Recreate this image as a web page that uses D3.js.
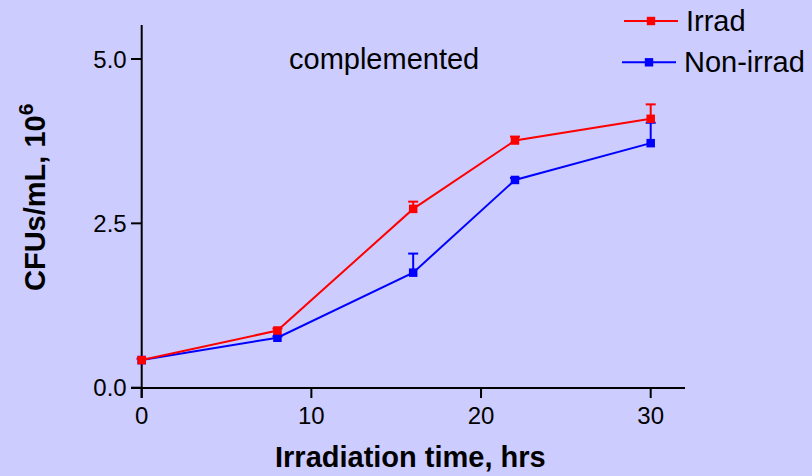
<!DOCTYPE html>
<html>
<head>
<meta charset="utf-8">
<script src="https://cdn.jsdelivr.net/npm/d3@7"></script>
<style>
  html, body { margin: 0; padding: 0; background: #ccccff; }
  svg { display: block; font-family: "Liberation Sans", Arial, sans-serif; }
</style>
</head>
<body>
<svg id="chart" width="812" height="476"></svg>
<script>
// Growth after irradiation, complemented strain
const hours = [0, 8, 16, 22, 30];
const irrad = [0.42, 0.87, 2.72, 3.76, 4.09];
const irradErr = [0.02, 0.03, 0.11, 0.06, 0.22];
const nonIrrad = [0.42, 0.76, 1.75, 3.16, 3.72];
const nonIrradErr = [0.02, 0.02, 0.29, 0.03, 0.31];
const xTicks = [0, 10, 20, 30];
const yTicks = [0.0, 2.5, 5.0];

const series = [
  { name: "Irrad", color: "#ff0000", values: irrad, err: irradErr },
  { name: "Non-irrad", color: "#0000ff", values: nonIrrad, err: nonIrradErr }
];

const svg = d3.select("#chart");
const x = d3.scaleLinear().domain([0, 30]).range([141.7, 650.7]);
const y = d3.scaleLinear().domain([0, 5]).range([387.7, 59]);

// axes
const xAxis = svg.append("g").attr("transform", "translate(0,388)");
xAxis.append("line").attr("x1", 131).attr("x2", 685).attr("stroke", "#000").attr("stroke-width", 2);
xAxis.selectAll(".xt").data(xTicks).enter().append("g").attr("class", "xt")
  .attr("transform", d => `translate(${x(d)},0)`)
  .each(function(d) {
    const t = d3.select(this);
    t.append("line").attr("y1", 0).attr("y2", 10).attr("stroke", "#000").attr("stroke-width", 2);
    t.append("text").attr("y", 36).attr("text-anchor", "middle").attr("font-size", 24).text(d);
  });

const yAxis = svg.append("g").attr("transform", "translate(141.7,0)");
yAxis.append("line").attr("y1", 25).attr("y2", 398).attr("stroke", "#000").attr("stroke-width", 2);
yAxis.selectAll(".yt").data(yTicks).enter().append("g").attr("class", "yt")
  .attr("transform", d => `translate(0,${y(d)})`)
  .each(function(d) {
    const t = d3.select(this);
    t.append("line").attr("x1", -10.7).attr("x2", 0).attr("stroke", "#000").attr("stroke-width", 2);
    t.append("text").attr("x", -15).attr("dy", "0.36em").attr("text-anchor", "end")
      .attr("font-size", 24).text(d3.format(".1f")(d));
  });

// axis titles
svg.append("text").attr("x", 275).attr("y", 467)
  .attr("font-size", 29).attr("font-weight", "bold").text("Irradiation time, hrs");

const yl = svg.append("text").attr("transform", "translate(44.5,291) rotate(-90)")
  .attr("font-size", 29).attr("font-weight", "bold");
yl.append("tspan").text("CFUs/mL, 10");
yl.append("tspan").attr("dy", -12).attr("font-size", 21).text("6");

svg.append("text").attr("x", 289).attr("y", 68.5).attr("font-size", 29).text("complemented");

// lines, error bars, markers
const line = d3.line().x((d, i) => x(hours[i])).y(d => y(d));
series.slice().reverse().forEach(s => {
  const g = svg.append("g");
  g.append("path").attr("d", line(s.values)).attr("fill", "none")
    .attr("stroke", s.color).attr("stroke-width", 2);
  s.values.forEach((v, i) => {
    const cx = x(hours[i]), top = y(v + s.err[i]);
    g.append("line").attr("x1", cx).attr("x2", cx).attr("y1", y(v)).attr("y2", top)
      .attr("stroke", s.color).attr("stroke-width", 2);
    g.append("line").attr("x1", cx - 5).attr("x2", cx + 5).attr("y1", top).attr("y2", top)
      .attr("stroke", s.color).attr("stroke-width", 2);
  });
  g.selectAll("rect").data(s.values).enter().append("rect")
    .attr("x", (d, i) => x(hours[i]) - 4.25).attr("y", d => y(d) - 4.25)
    .attr("width", 8.5).attr("height", 8.5).attr("fill", s.color);
});

// legend
const legendRows = [
  { ly: 21, x1: 624, x2: 678, tx: 686 },
  { ly: 62.3, x1: 622, x2: 676, tx: 684 }
];
series.forEach((s, i) => {
  const r = legendRows[i];
  const g = svg.append("g");
  g.append("line").attr("x1", r.x1).attr("x2", r.x2).attr("y1", r.ly).attr("y2", r.ly)
    .attr("stroke", s.color).attr("stroke-width", 2);
  g.append("rect").attr("x", (r.x1 + r.x2) / 2 - 4.2).attr("y", r.ly - 4.2)
    .attr("width", 8.4).attr("height", 8.4).attr("fill", s.color);
  g.append("text").attr("x", r.tx).attr("y", r.ly + 10).attr("font-size", 29).text(s.name);
});
</script>
</body>
</html>
